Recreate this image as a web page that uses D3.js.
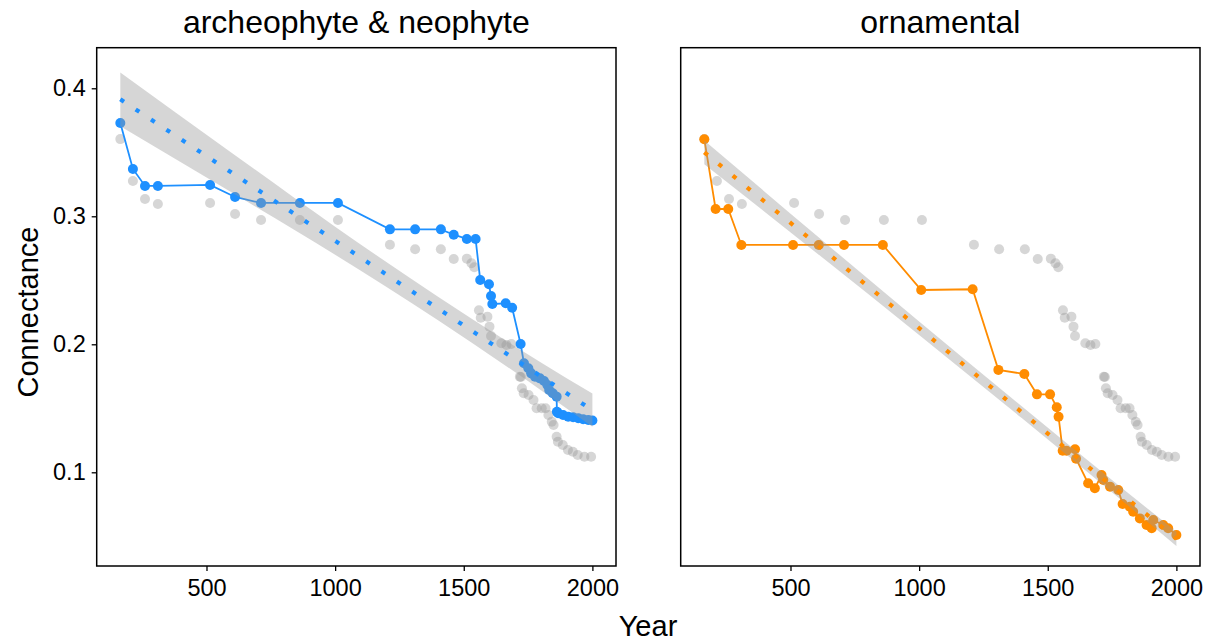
<!DOCTYPE html>
<html>
<head>
<meta charset="utf-8">
<script src="https://cdn.jsdelivr.net/npm/d3@7"></script>
<style>
  html, body { margin: 0; padding: 0; background: #fff; }
  svg { display: block; font-family: "Liberation Sans", Arial, sans-serif; }
</style>
</head>
<body>
<svg id="chart" width="1215" height="644"></svg>
<script>
// ---------------- data ----------------
const panelTitles = ["archeophyte & neophyte", "ornamental"];
const seriesColors = ["#1E90FF", "#FF8C00"];
const xTicks = [500, 1000, 1500, 2000];
const yTicks = [0.1, 0.2, 0.3, 0.4];
const xTitle = "Year";
const yTitle = "Connectance";

// grey reference series (same in both panels)
const greyYears = [165, 214, 261, 311, 514, 611, 712, 863, 1011, 1213, 1311, 1411, 1461, 1512, 1530, 1541,
  1559, 1566, 1592, 1600, 1606, 1646, 1666, 1685, 1718, 1722, 1726, 1733, 1752, 1771, 1783, 1803, 1818,
  1829, 1842, 1849, 1861, 1866, 1885, 1905, 1924, 1943, 1969, 1995];
const greyValues = [0.3603, 0.3276, 0.3135, 0.3096, 0.3104, 0.3018, 0.2971, 0.2971, 0.2971, 0.2778, 0.2742,
  0.2742, 0.2666, 0.2669, 0.2633, 0.2602, 0.2266, 0.2208, 0.2216, 0.2138, 0.2065, 0.2008, 0.1995, 0.2002,
  0.1747, 0.1745, 0.1656, 0.1617, 0.1604, 0.1565, 0.1500, 0.1500, 0.1500, 0.1448, 0.1395, 0.1370, 0.1278,
  0.1239, 0.1213, 0.1174, 0.1161, 0.1135, 0.1122, 0.1122];

// archeophyte & neophyte
const blueYears = [165, 214, 261, 311, 514, 611, 712, 863, 1011, 1213, 1311, 1411, 1461, 1512, 1546, 1564,
  1598, 1606, 1611, 1663, 1688, 1721, 1734, 1751, 1762, 1777, 1796, 1812, 1825, 1832, 1846, 1861, 1862,
  1867, 1886, 1906, 1925, 1945, 1964, 1984, 2000];
const blueValues = [0.3729, 0.3370, 0.3237, 0.3237, 0.3245, 0.3151, 0.3104, 0.3104, 0.3104, 0.2898, 0.2898,
  0.2898, 0.2856, 0.2823, 0.2823, 0.2502, 0.2469, 0.2377, 0.2315, 0.2320, 0.2286, 0.2002, 0.1852, 0.1813,
  0.1773, 0.1747, 0.1734, 0.1713, 0.1682, 0.1643, 0.1617, 0.1591, 0.1473, 0.1461, 0.1448, 0.1434, 0.1430,
  0.1422, 0.1414, 0.1409, 0.1405];

// ornamental
const orangeYears = [165, 209, 258, 309, 510, 610, 708, 859, 1008, 1208, 1308, 1409, 1458, 1509, 1535, 1542,
  1558, 1573, 1606, 1610, 1657, 1683, 1709, 1716, 1742, 1774, 1791, 1819, 1832, 1858, 1884, 1904, 1910,
  1949, 1968, 2000];
const orangeValues = [0.3602, 0.3057, 0.3057, 0.2776, 0.2776, 0.2776, 0.2776, 0.2776, 0.2424, 0.2430, 0.1800,
  0.1768, 0.1609, 0.1609, 0.1508, 0.1434, 0.1169, 0.1169, 0.1180, 0.1106, 0.0914, 0.0875, 0.0979, 0.0940,
  0.0888, 0.0862, 0.0753, 0.0731, 0.0692, 0.0640, 0.0588, 0.0563, 0.0627, 0.0588, 0.0563, 0.0510];

// linear trend (dotted) and its confidence band
const fitYears = [165, 2000];
const blueFitValues = [0.3914, 0.1485];
const orangeFitValues = [0.3500, 0.0480];
const bandYears = [165, 600, 1000, 1400, 1800, 2000];
const blueBandHalf = [0.0210, 0.0155, 0.0110, 0.0092, 0.0108, 0.0130];
const orangeBandHalf = [0.0093, 0.0068, 0.0053, 0.0046, 0.0049, 0.0056];

// ---------------- layout ----------------
const panels = [
  { left: 96.7, right: 616.0, years: blueYears, values: blueValues,
    fit: blueFitValues, band: blueBandHalf, showY: true },
  { left: 680.7, right: 1200.0, years: orangeYears, values: orangeValues,
    fit: orangeFitValues, band: orangeBandHalf, showY: false }
];
const plotTop = 47.7, plotBottom = 566;
const xDomain = [73.25, 2091.75];
const yDomain = [0.0268, 0.4317];
const font = "'Liberation Sans', Arial, sans-serif";

const svg = d3.select("#chart");

panels.forEach((p, pi) => {
  const x = d3.scaleLinear().domain(xDomain).range([p.left, p.right]);
  const y = d3.scaleLinear().domain(yDomain).range([plotBottom, plotTop]);
  const g = svg.append("g");
  const color = seriesColors[pi];

  const clipId = "clip" + pi;
  svg.append("clipPath").attr("id", clipId).append("rect")
    .attr("x", p.left).attr("y", plotTop).attr("width", p.right - p.left).attr("height", plotBottom - plotTop);
  const plot = g.append("g").attr("clip-path", `url(#${clipId})`);

  // grey points
  plot.selectAll("circle.grey").data(greyYears.map((yr, i) => [yr, greyValues[i]])).enter()
    .append("circle").attr("class", "grey")
    .attr("cx", d => x(d[0])).attr("cy", d => y(d[1])).attr("r", 5)
    .attr("fill", "#999999").attr("fill-opacity", 0.4);

  const series = p.years.map((yr, i) => [yr, p.values[i]]);
  plot.append("path").datum(series)
    .attr("d", d3.line().x(d => x(d[0])).y(d => y(d[1])))
    .attr("fill", "none").attr("stroke", color).attr("stroke-width", 1.8);
  plot.selectAll("circle.s").data(series).enter()
    .append("circle").attr("class", "s")
    .attr("cx", d => x(d[0])).attr("cy", d => y(d[1])).attr("r", 5)
    .attr("fill", color);

  // trend band + dotted trend line
  const trend = d3.scaleLinear().domain(fitYears).range(p.fit);
  const bandPts = bandYears.map((yr, i) => ({ yr, lo: trend(yr) - p.band[i], hi: trend(yr) + p.band[i] }));
  plot.append("path").datum(bandPts)
    .attr("d", d3.area().curve(d3.curveMonotoneX).x(d => x(d.yr)).y0(d => y(d.lo)).y1(d => y(d.hi)))
    .attr("fill", "#999999").attr("fill-opacity", 0.4);
  plot.append("path").datum(fitYears.map((yr, i) => [yr, p.fit[i]]))
    .attr("d", d3.line().x(d => x(d[0])).y(d => y(d[1])))
    .attr("fill", "none").attr("stroke", color).attr("stroke-width", 4.2)
    .attr("stroke-dasharray", "4.4 14");

  // x axis
  const xa = g.append("g").attr("transform", `translate(0,${plotBottom})`)
    .call(d3.axisBottom(x).tickValues(xTicks).tickFormat(d3.format("d")).tickSize(5).tickPadding(8));
  xa.select(".domain").remove();
  xa.selectAll("line").attr("stroke", "#000").attr("stroke-width", 1.3);
  xa.selectAll("text").attr("font-size", 23.5).attr("fill", "#000").attr("font-family", font);

  if (p.showY) {
    const ya = g.append("g").attr("transform", `translate(${p.left},0)`)
      .call(d3.axisLeft(y).tickValues(yTicks).tickFormat(d3.format(".1f")).tickSize(5).tickPadding(6));
    ya.select(".domain").remove();
    ya.selectAll("line").attr("stroke", "#000").attr("stroke-width", 1.3);
    ya.selectAll("text").attr("font-size", 23.5).attr("fill", "#000").attr("font-family", font);
  }

  g.append("rect").attr("x", p.left).attr("y", plotTop)
    .attr("width", p.right - p.left).attr("height", plotBottom - plotTop)
    .attr("fill", "none").attr("stroke", "#000").attr("stroke-width", 1.5);

  g.append("text").attr("x", (p.left + p.right) / 2).attr("y", 33)
    .attr("text-anchor", "middle").attr("font-size", 32).attr("fill", "#000")
    .text(panelTitles[pi]);
});

svg.append("text").attr("x", 648).attr("y", 636).attr("text-anchor", "middle")
  .attr("font-size", 29).attr("fill", "#000").text(xTitle);
svg.append("text").attr("transform", `translate(38,312) rotate(-90)`)
  .attr("text-anchor", "middle").attr("font-size", 29).attr("fill", "#000").text(yTitle);
</script>
</body>
</html>
